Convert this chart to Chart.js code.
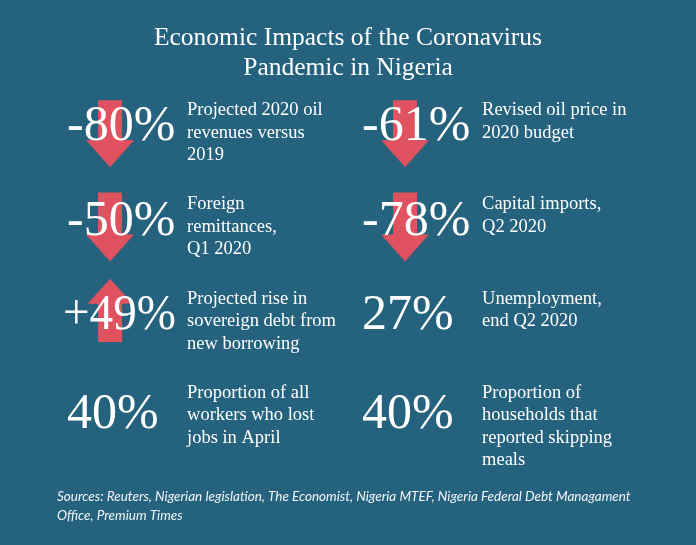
<!DOCTYPE html>
<html>
<head>
<meta charset="utf-8">
<script src="https://cdn.jsdelivr.net/npm/chart.js@4"></script>
<style>
  html, body { margin: 0; padding: 0; background: #25627d; }
  #wrap { width: 696px; height: 545px; position: relative; }
</style>
</head>
<body>
<div id="wrap"><canvas id="myChart"></canvas></div>
<script>
const titleLines = ['Economic Impacts of the Coronavirus', 'Pandemic in Nigeria'];
const statValues = ['-80%', '-61%', '-50%', '-78%', '+49%', '27%', '40%', '40%'];
const statDirections = ['down', 'down', 'down', 'down', 'up', null, null, null];
const statCaptions = [
    ['Projected 2020 oil', 'revenues versus', '2019'],
    ['Revised oil price in', '2020 budget'],
    ['Foreign', 'remittances,', 'Q1 2020'],
    ['Capital imports,', 'Q2 2020'],
    ['Projected rise in', 'sovereign debt from', 'new borrowing'],
    ['Unemployment,', 'end Q2 2020'],
    ['Proportion of all', 'workers who lost', 'jobs in April'],
    ['Proportion of', 'households that', 'reported skipping', 'meals']
];
const sourceLines = [
    'Sources: Reuters, Nigerian legislation, The Economist, Nigeria MTEF, Nigeria Federal Debt Managament',
    'Office, Premium Times'
];

const arrowColor = '#e0525f';

// arrow pictures used as point styles
function makeArrow(dir) {
    let c = document.createElement('canvas');
    let g = c.getContext('2d');
    if (dir === 'down') {
        c.width = 50; c.height = 116;
        g.fillStyle = arrowColor;
        g.beginPath();
        g.moveTo(13, 46); g.lineTo(37, 46); g.lineTo(37, 88); g.lineTo(49, 88);
        g.lineTo(25, 115); g.lineTo(1, 88); g.lineTo(13, 88);
    } else {
        c.width = 50; c.height = 86;
        g.fillStyle = arrowColor;
        g.beginPath();
        g.moveTo(25, 23); g.lineTo(47.5, 48); g.lineTo(37, 48); g.lineTo(37, 86);
        g.lineTo(13, 86); g.lineTo(13, 48); g.lineTo(2.5, 48);
    }
    g.closePath();
    g.fill();
    return c;
}
const arrows = { down: makeArrow('down'), up: makeArrow('up') };

// big numbers and captions over each cell
const statText = {
    id: 'statText',
    afterDatasetsDraw(chart) {
        let c = chart.ctx;
        let pts = chart.getDatasetMeta(0).data;
        c.save();
        c.fillStyle = '#ffffff';
        c.textBaseline = 'middle';
        c.textAlign = 'left';
        pts.forEach((p, i) => {
            let lastRow = i >= 6;
            c.font = '50px "Liberation Serif", serif';
            let w = c.measureText(statValues[i]).width;
            let left = w > 112 ? p.x - 47 : p.x - 43;
            c.fillText(statValues[i], left, p.y + (lastRow ? 22 : 17), 113);
            c.font = '18.5px "Liberation Serif", serif';
            statCaptions[i].forEach((line, k) => {
                c.fillText(line, p.x + 77, p.y + k * 22.5);
            });
        });
        c.restore();
    }
};

const ctx = document.getElementById('myChart').getContext('2d');
let myChart = new Chart(ctx, {
    type: 'scatter',
    data: {
        datasets: [{
            data: statValues.map((v, i) => ({ x: i % 2, y: Math.floor(i / 2) })),
            pointStyle: c => arrows[statDirections[c.dataIndex]] || false,
            pointRadius: 3,
            pointHoverRadius: 3
        }]
    },
    options: {
        responsive: true,
        maintainAspectRatio: false,
        animation: false,
        events: [],
        layout: { padding: { left: 57, right: 57, top: 0, bottom: 0 } },
        scales: {
            x: { type: 'linear', display: false, min: -0.1797, max: 1.793 },
            y: { type: 'linear', display: false, reverse: true, min: -0.106, max: 3.922 }
        },
        plugins: {
            legend: { display: false },
            tooltip: { enabled: false },
            title: {
                display: true,
                text: titleLines,
                color: '#ffffff',
                font: { family: '"Liberation Serif", serif', size: 25.5, weight: 'normal', lineHeight: 1.18 },
                padding: { top: 23, bottom: 17 }
            },
            subtitle: {
                display: true,
                position: 'bottom',
                align: 'start',
                text: sourceLines,
                color: '#f2f6f8',
                font: { family: 'Lato, sans-serif', size: 13.5, style: 'italic', lineHeight: 1.41 },
                padding: { top: 7.5, bottom: 19.5 }
            }
        }
    },
    plugins: [statText]
});
</script>
</body>
</html>
